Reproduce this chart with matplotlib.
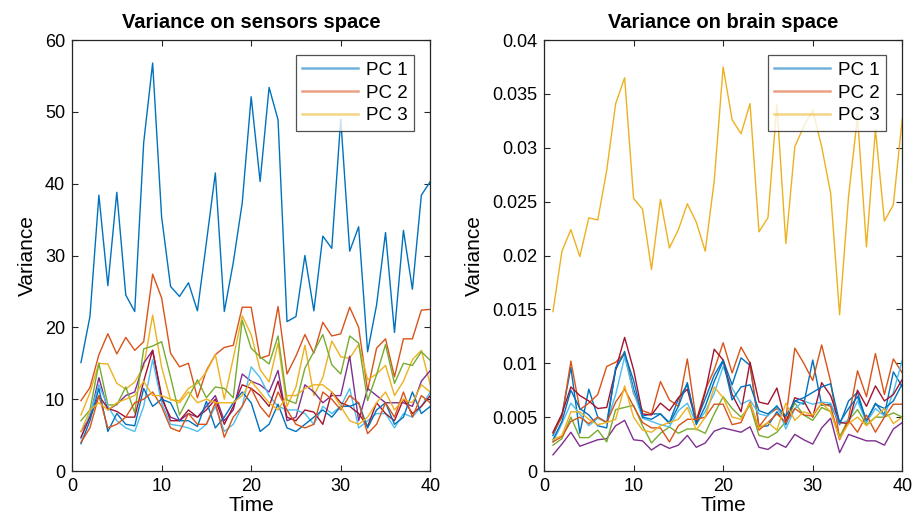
import matplotlib
matplotlib.use("Agg")
import matplotlib.pyplot as plt
from matplotlib.ticker import FixedLocator, FuncFormatter

plt.rcParams['font.family'] = ['Liberation Sans', 'DejaVu Sans']

time = list(range(1, 41))

# sensors space, PC 1..10
s_pc1 = [15.1, 21.5, 38.4, 25.8, 38.8, 24.5, 22.2, 45.7, 56.8, 35.4, 25.7, 24.3, 26.2, 22.3, 31.8, 41.5, 22.2, 29, 37.3, 52.1,
         40.3, 53.4, 48.9, 20.8, 21.5, 30, 22.3, 32.7, 31, 49, 30.6, 34, 16.6, 23.1, 33.2, 19.3, 33.5, 25.3, 38.4, 40.3]
s_pc2 = [9.8, 11.6, 16.2, 19.1, 16.3, 18.6, 16.8, 18, 27.4, 24.1, 16.4, 14.5, 15, 10.2, 14, 16.2, 17.2, 17.5, 22.8, 22.8,
         15.7, 16.1, 22.9, 13.5, 16, 19, 16.4, 20.7, 18.8, 19.1, 22.8, 20, 11.2, 17.1, 18.4, 13.1, 18.4, 18.4, 22.4, 22.5]
s_pc3 = [7.8, 10.9, 15, 14.9, 12.2, 11.4, 12.4, 14.5, 21.7, 14.5, 9.9, 9.8, 11.5, 12.2, 13.8, 16.2, 10, 15.7, 21.6, 19,
         14.1, 12.4, 17.8, 9, 11.7, 17.5, 10.5, 13, 18.1, 15.9, 15.7, 17.6, 12.7, 13.5, 14.7, 10.5, 12.5, 15.5, 16.8, 12]
s_pc4 = [5.5, 7.5, 13, 8.5, 9.3, 10.5, 11, 15, 16.8, 10, 7.5, 7, 8, 7.5, 9, 10.5, 7, 8.5, 13.5, 12.5,
         12, 11, 14, 7, 7.5, 12, 11, 9.5, 10.5, 10.5, 16, 7, 11.5, 10.5, 9.5, 9.5, 9.5, 9, 12.5, 14]
s_pc5 = [7, 8.5, 15, 9.2, 9.2, 11.7, 8.1, 17, 17.4, 18, 13.1, 7.8, 10.2, 12.7, 10.2, 11.7, 11.5, 10.2, 21, 17.1,
         15.9, 14.9, 18.8, 9.9, 9.4, 14.3, 16.6, 19, 14.8, 13.5, 18.8, 17.8, 9.8, 13.4, 17.6, 12.2, 15, 14.7, 16.6, 15.4]
s_pc6 = [4.5, 8, 12, 9, 7, 6, 5.5, 9, 15.5, 9.5, 6.5, 6.3, 6, 5.5, 6.5, 9, 5.5, 6.5, 9, 14.5,
         13, 10.5, 9, 8.5, 8.5, 8, 6.5, 9, 8, 9, 11.5, 6, 7, 8, 8, 6, 8, 7.5, 9, 11]
s_pc7 = [4.7, 7.5, 10.5, 8.7, 8.3, 7.5, 7.5, 12.5, 16.8, 10.5, 7, 7, 8.5, 7.5, 8.5, 10, 6.5, 9, 12, 11.5,
         10.5, 9, 12.5, 7.5, 7, 8.5, 8.2, 6.5, 11, 9.5, 9, 8, 6.2, 9.5, 8, 7, 10, 8, 9, 10.5]
s_pc8 = [3.8, 7, 11.5, 5.5, 8, 6.5, 6.3, 11.5, 9, 10, 9.5, 7, 7, 6.2, 9.7, 6, 7.5, 9.5, 11, 9.5,
         5.5, 6.5, 9.3, 6, 5.5, 6.5, 7.5, 8.5, 7.5, 9, 9, 9.5, 6, 8.5, 9.5, 6.5, 7.5, 11, 8, 9]
s_pc9 = [4, 6, 10.5, 6, 6.5, 7.5, 9.5, 10, 11, 9, 6, 5.5, 8, 6.5, 6.5, 9.5, 4.7, 7.5, 9, 11.5,
         9, 7.5, 11, 8.5, 6.5, 6, 6.5, 11, 10, 8.5, 10.5, 9.5, 5.2, 6.5, 9.5, 7.5, 11, 7.5, 10.5, 9.5]
s_pc10 = [5.5, 8.5, 9.5, 8.5, 9.5, 10, 10.5, 12.5, 10.5, 10.5, 10, 9.5, 11, 9.5, 10, 9.5, 9.5, 9.5, 10.5, 12.5,
          11, 9.5, 8.5, 10.5, 10.5, 11.5, 12, 12, 11, 9, 7, 6.5, 7.5, 9.5, 11, 8.5, 10, 9.5, 12, 11]

# brain space, PC 1..10 (units of 1e-3)
b_pc1 = [3.3, 5.2, 9.6, 3.5, 7.6, 5.0, 4.5, 9.4, 11.1, 7.6, 5.1, 5.3, 5.3, 4.5, 6.7, 8.0, 4.6, 6.7, 8.9, 10.3,
         8.0, 10.5, 9.8, 4.1, 4.2, 5.5, 4.3, 6.5, 6.2, 10.3, 6.1, 6.2, 4.3, 6.5, 7.3, 4.6, 6.3, 5.2, 9.2, 7.8]
b_pc2 = [3.5, 5.0, 10.2, 5.7, 6.3, 7.1, 9.7, 10.1, 10.9, 7.2, 5.6, 5.3, 8.3, 6.6, 6.0, 10.4, 4.7, 7.5, 9.4, 11.9,
         9.1, 11.5, 10.0, 4.1, 5.2, 5.8, 4.9, 11.4, 10.0, 8.4, 11.7, 8.3, 3.0, 4.9, 9.3, 6.9, 10.9, 7.1, 10.4, 9.1]
b_pc3 = [14.8, 20.4, 22.4, 19.9, 23.5, 23.3, 27.9, 34.1, 36.5, 25.3, 24.3, 18.7, 25.2, 20.7, 22.4, 24.8, 23.1, 20.4, 26.9, 37.5,
         32.6, 31.3, 34.1, 22.2, 23.5, 34.0, 21.1, 30.1, 32.0, 33.5, 30.1, 25.8, 14.5, 25.5, 32.9, 20.8, 31.7, 23.2, 24.7, 32.7]
b_pc4 = [1.5, 2.5, 3.6, 2.3, 2.6, 2.9, 3.0, 4.2, 4.7, 2.9, 2.8, 1.95, 2.5, 2.1, 2.4, 3.3, 2.2, 2.6, 3.7, 4.0,
         3.8, 3.6, 4.1, 2.2, 2.0, 2.6, 2.2, 3.4, 2.9, 2.5, 4.0, 4.9, 1.7, 3.4, 3.1, 2.8, 2.8, 2.4, 3.9, 4.5]
b_pc5 = [2.4, 3.0, 5.0, 3.1, 3.1, 3.8, 2.7, 5.7, 5.9, 6.1, 4.2, 2.6, 3.5, 4.1, 3.5, 3.9, 3.9, 3.5, 5.3, 6.9,
         5.8, 5.0, 6.1, 3.3, 3.1, 3.6, 4.6, 6.3, 5.2, 4.7, 5.9, 5.5, 3.2, 4.7, 5.7, 4.3, 5.0, 5.0, 5.4, 5.0]
b_pc6 = [2.7, 4.4, 6.3, 5.3, 4.2, 4.9, 4.5, 7.1, 10.6, 7.3, 4.9, 4.6, 4.3, 4.1, 5.6, 6.3, 4.4, 5.5, 7.2, 9.7,
         7.7, 6.2, 6.6, 5.3, 5.1, 6.1, 3.9, 5.8, 6.5, 6.2, 6.4, 6.3, 4.4, 4.7, 6.5, 4.5, 5.8, 5.1, 7.3, 10.3]
b_pc7 = [3.6, 5.3, 7.8, 7.0, 6.5, 5.8, 5.9, 9.4, 12.4, 9.4, 5.3, 5.2, 6.3, 5.6, 6.8, 7.6, 4.5, 7.3, 11.3, 10.3,
         7.1, 5.5, 10.1, 6.4, 6.2, 7.7, 4.5, 6.8, 6.5, 5.0, 8.2, 7.0, 4.5, 4.4, 7.5, 6.0, 7.9, 6.5, 7.1, 8.5]
b_pc8 = [2.9, 4.6, 7.5, 5.8, 5.2, 4.2, 4.0, 9.6, 10.9, 8.4, 5.0, 4.8, 5.3, 4.4, 6.0, 8.2, 4.3, 6.0, 8.3, 10.2,
         6.6, 7.8, 8.0, 5.6, 5.3, 6.0, 5.1, 6.5, 6.8, 7.3, 7.8, 8.1, 4.5, 5.8, 6.9, 4.7, 6.2, 5.8, 6.5, 8.1]
b_pc9 = [2.7, 3.2, 4.6, 5.0, 4.4, 5.0, 4.5, 6.4, 7.6, 6.0, 4.5, 4.0, 4.0, 2.7, 4.2, 4.8, 4.8, 5.0, 6.2, 6.2,
         4.3, 4.5, 6.4, 3.8, 4.5, 5.3, 4.5, 5.8, 5.2, 5.1, 6.3, 6.0, 2.9, 4.7, 3.6, 5.2, 3.6, 5.0, 6.2, 6.2]
b_pc10 = [2.9, 3.3, 5.5, 5.5, 4.8, 4.3, 4.5, 4.8, 7.9, 5.0, 3.8, 3.6, 4.2, 4.5, 4.8, 5.9, 3.8, 5.0, 7.8, 6.8,
          5.0, 4.8, 6.3, 4.0, 4.5, 3.8, 6.3, 4.7, 5.5, 5.2, 6.3, 5.5, 3.0, 4.4, 5.0, 4.2, 5.0, 5.8, 4.4, 5.0]

sensor_pcs = [s_pc1, s_pc2, s_pc3, s_pc4, s_pc5, s_pc6, s_pc7, s_pc8, s_pc9, s_pc10]
brain_pcs = [b_pc1, b_pc2, b_pc3, b_pc4, b_pc5, b_pc6, b_pc7, b_pc8, b_pc9, b_pc10]
legend_labels = ['PC 1', 'PC 2', 'PC 3']

# matlab default colour order
colors = ['#0072BD', '#D95319', '#EDB120', '#7E2F8E', '#77AC30', '#4DBEEE', '#A2142F']
axcol = '#262626'

fig = plt.figure(figsize=(9.14, 5.3), dpi=100)
ax1 = fig.add_axes([0.0788, 0.1113, 0.392, 0.8132])
ax2 = fig.add_axes([0.5952, 0.1113, 0.392, 0.8132])


def style(ax):
    for s in ax.spines.values():
        s.set_color(axcol)
        s.set_linewidth(0.9)
    ax.tick_params(direction='in', top=True, right=True, length=4, width=0.8,
                   colors=axcol, labelsize=13, labelcolor='black', pad=5)


# sensors
lines = []
for i, pc in enumerate(sensor_pcs):
    l, = ax1.plot(time, pc, color=colors[i % 7], lw=1.0)
    lines.append(l)
ax1.set_xlim(0, 40)
ax1.set_ylim(0, 60)
ax1.set_xticks([0, 10, 20, 30, 40])
ax1.set_yticks([0, 10, 20, 30, 40, 50, 60])
style(ax1)
ax1.set_title('Variance on sensors space', fontsize=14.5, fontweight='bold', pad=9)
ax1.set_xlabel('Time', fontsize=15, labelpad=1)
ax1.set_ylabel('Variance', fontsize=15, labelpad=6)

# brain
blines = []
for i, pc in enumerate(brain_pcs):
    l, = ax2.plot(time, [v / 1000 for v in pc], color=colors[i % 7], lw=1.0)
    blines.append(l)
ax2.set_xlim(0, 40)
ax2.set_ylim(0, 0.04)
ax2.set_xticks([0, 10, 20, 30, 40])
ax2.yaxis.set_major_locator(FixedLocator([0, 0.005, 0.01, 0.015, 0.02, 0.025, 0.03, 0.035, 0.04]))
ax2.yaxis.set_major_formatter(FuncFormatter(lambda v, p: '%g' % round(v, 4)))
style(ax2)
ax2.set_title('Variance on brain space', fontsize=14.5, fontweight='bold', pad=9)
ax2.set_xlabel('Time', fontsize=15, labelpad=1)
ax2.set_ylabel('Variance', fontsize=15, labelpad=6)

for ax, ls in [(ax1, lines), (ax2, blines)]:
    leg = ax.legend(ls[:3], legend_labels, loc='upper right', bbox_to_anchor=(0.955, 0.965),
                    borderaxespad=0, fontsize=13.5, frameon=True, fancybox=False,
                    handlelength=3.0, handletextpad=0.4, labelspacing=0.3,
                    borderpad=0.35)
    leg.get_frame().set_edgecolor(axcol)
    leg.get_frame().set_linewidth(0.9)
    for h in leg.legend_handles:
        h.set_alpha(0.55)
        h.set_linewidth(1.8)

fig.savefig('out.png', dpi=100)
